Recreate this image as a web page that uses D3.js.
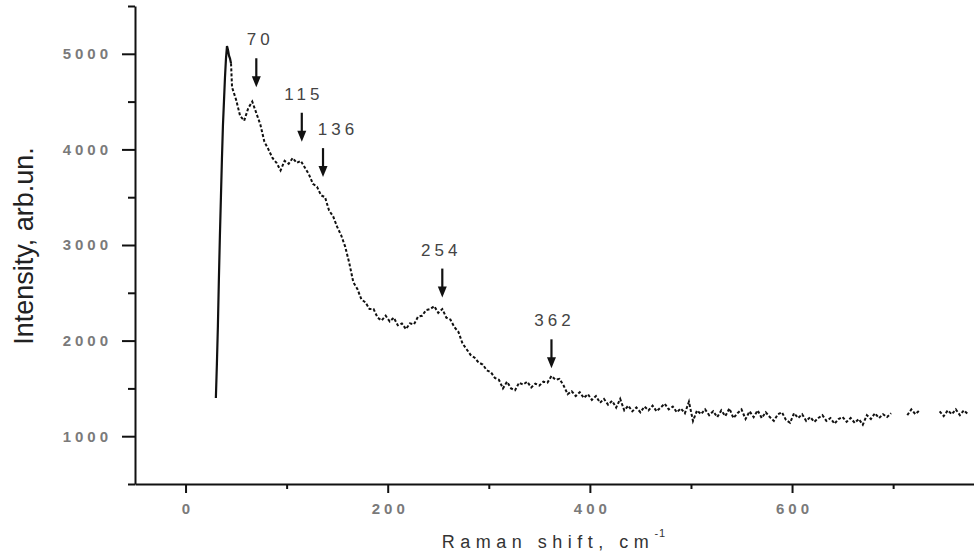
<!DOCTYPE html>
<html>
<head>
<meta charset="utf-8">
<script src="https://cdn.jsdelivr.net/npm/d3@7/dist/d3.min.js"></script>
<style>
  body { margin: 0; background: #fff; }
  svg { display: block; font-family: "Liberation Sans", Arial, sans-serif; }
</style>
</head>
<body>
<svg id="chart" width="974" height="560"></svg>
<script>
// steep laser-edge part of the spectrum (drawn solid)
var riseShift = [30, 31, 32, 33, 34, 35, 36, 37, 38, 39, 40, 41, 42, 43, 44, 45];
var riseIntensity = [1400, 1750, 2150, 2650, 3100, 3500, 3900, 4250, 4500, 4750, 4950, 5080, 5040, 4980, 4950, 4900];

// rest of the spectrum (null = gap in the trace)
var shift = [
  45, 46, 50, 54, 58, 62, 66, 70, 74, 78, 82, 86, 90, 94, 98, 102, 106, 110, 114, 118,
  122, 126, 130, 134, 138, 142, 146, 150, 154, 158, 162, 166, 170, 174, 178, 182, 186, 190, 194, 198,
  202, 206, 210, 214, 218, 222, 226, 230, 234, 238, 242, 246, 250, 254, 258, 262, 266, 270, 274, 278,
  282, 286, 290, 294, 298, 302, 306, 310, 314, 318, 322, 326, 330, 334, 338, 342, 346, 350, 354, 358,
  362, 366, 370, 374, 378, 382, 386, 390, 394, 398, 402, 406, 410, 414, 418, 422, 426, 430, 434, 438,
  442, 446, 450, 454, 458, 462, 466, 470, 474, 478, 482, 486, 490, 494, 498, 502, 506, 510, 514, 518,
  522, 526, 530, 534, 538, 542, 546, 550, 554, 558, 562, 566, 570, 574, 578, 582, 586, 590, 594, 598,
  602, 606, 610, 614, 618, 622, 626, 630, 634, 638, 642, 646, 650, 654, 658, 662, 666, 670, 674, 678,
  682, 686, 690, 694, 698, 702, 706, 710, 714, 718, 722, 726, 730, 734, 738, 742, 746, 750, 754, 758,
  762, 766, 770, 774
];
var intensity = [
  4900, 4650, 4520, 4350, 4300, 4430, 4500, 4380, 4260, 4080, 4000, 3910, 3860, 3780, 3880, 3850, 3910, 3860, 3880, 3810,
  3740, 3640, 3610, 3520, 3500, 3360, 3300, 3190, 3100, 2980, 2810, 2610, 2540, 2430, 2400, 2330, 2330, 2240, 2210, 2260,
  2200, 2240, 2160, 2180, 2120, 2180, 2170, 2250, 2260, 2320, 2330, 2360, 2290, 2330, 2240, 2220, 2140, 2090, 1970, 1910,
  1850, 1820, 1770, 1750, 1690, 1670, 1610, 1590, 1500, 1570, 1500, 1480, 1560, 1540, 1570, 1510, 1550, 1530, 1570, 1560,
  1630, 1590, 1600, 1530, 1440, 1470, 1420, 1460, 1400, 1440, 1380, 1420, 1350, 1390, 1330, 1370, 1300, 1390, 1270, 1320,
  1260, 1300, 1250, 1310, 1270, 1320, 1260, 1300, 1340, 1280, 1310, 1250, 1290, 1240, 1360, 1160, 1270, 1230, 1280, 1220,
  1260, 1200, 1270, 1210, 1290, 1190, 1240, 1280, 1180, 1260, 1200, 1270, 1190, 1250, 1200, 1160, 1230, 1250, 1170, 1140,
  1240, 1190, 1230, 1160, 1200, 1150, 1190, 1220, 1160, 1190, 1130, 1180, 1200, 1150, 1190, 1140, 1180, 1120, 1220, 1180,
  1240, 1190, 1230, 1200, 1240, null, null, null, 1220, 1280, 1230, 1270, null, null, null, null, 1260, 1210, 1270, 1230,
  1280, 1220, 1270, 1230
];

// marked peaks
var peakShift = [70, 115, 136, 254, 362];
var peakLabel = ["70", "115", "136", "254", "362"];
var arrowTip = [4650, 4080, 3710, 2450, 1710];
var labelShift = [2, 0, 13, -3, 1];

var xTicks = [0, 200, 400, 600];
var xMinor = [100, 300, 500, 700];
var yTicks = [1000, 2000, 3000, 4000, 5000];
var yMinor = [500, 1500, 2500, 3500, 4500, 5500];

var svg = d3.select("#chart");

var x = d3.scaleLinear().domain([-50, 780]).range([135, 974]);
var y = d3.scaleLinear().domain([500, 5500]).range([484, 6]);

// axes
var gx = svg.append("g")
  .attr("transform", "translate(0,484)")
  .call(d3.axisBottom(x).tickValues(xTicks).tickSize(9).tickSizeOuter(0).tickPadding(10).tickFormat(d3.format("d")));
svg.append("g")
  .attr("transform", "translate(0,484)")
  .call(d3.axisBottom(x).tickValues(xMinor).tickSize(5).tickSizeOuter(0).tickFormat(""))
  .select(".domain").remove();

var gy = svg.append("g")
  .attr("transform", "translate(135,0)")
  .call(d3.axisLeft(y).tickValues(yTicks).tickSize(13).tickSizeOuter(0).tickPadding(10).tickFormat(d3.format("d")));
svg.append("g")
  .attr("transform", "translate(135,0)")
  .call(d3.axisLeft(y).tickValues(yMinor).tickSize(7).tickSizeOuter(0).tickFormat(""))
  .select(".domain").remove();

svg.selectAll(".domain, .tick line")
  .attr("stroke", "#111")
  .attr("stroke-width", 2);

svg.selectAll(".tick text")
  .attr("font-size", 15)
  .attr("font-weight", "bold")
  .attr("letter-spacing", "4px")
  .attr("fill", "#7a7a7a")
  .attr("font-family", "Liberation Sans, Arial, sans-serif");
gx.selectAll(".tick text").attr("dx", "2px");

// spectrum
var line = d3.line()
  .defined(function (d) { return d[1] !== null; })
  .x(function (d) { return x(d[0]); })
  .y(function (d) { return y(d[1]); });

svg.append("path")
  .datum(riseShift.map(function (s, i) { return [s, riseIntensity[i]]; }))
  .attr("d", line)
  .attr("fill", "none")
  .attr("stroke", "#111")
  .attr("stroke-width", 2.2);

svg.append("path")
  .datum(shift.map(function (s, i) { return [s, intensity[i]]; }))
  .attr("d", line)
  .attr("fill", "none")
  .attr("stroke", "#111")
  .attr("stroke-width", 2)
  .attr("stroke-dasharray", "3,2");

// peak arrows and labels
var peaks = svg.selectAll("g.peak")
  .data(peakShift)
  .enter().append("g")
    .attr("class", "peak")
    .attr("transform", function (d, i) {
      return "translate(" + x(d) + "," + y(arrowTip[i]) + ")";
    });

peaks.append("line")
  .attr("x1", 0).attr("x2", 0)
  .attr("y1", -29).attr("y2", -7)
  .attr("stroke", "#111")
  .attr("stroke-width", 2.2);

peaks.append("path")
  .attr("d", "M-4.5,-11 L4.5,-11 L0,0 Z")
  .attr("fill", "#111");

peaks.append("text")
  .attr("x", function (d, i) { return labelShift[i] + 2; })
  .attr("y", -42)
  .attr("text-anchor", "middle")
  .attr("font-size", 17)
  .attr("letter-spacing", "4px")
  .attr("fill", "#444")
  .text(function (d, i) { return peakLabel[i]; });

// axis titles
var xTitle = svg.append("text")
  .attr("x", 554)
  .attr("y", 548)
  .attr("text-anchor", "middle")
  .attr("font-size", 18)
  .attr("letter-spacing", "5.5px")
  .attr("fill", "#333")
  .text("Raman shift, cm");
xTitle.append("tspan")
  .attr("font-size", 11)
  .attr("dy", -11)
  .attr("letter-spacing", "1px")
  .text("-1");

svg.append("text")
  .attr("transform", "translate(33,246) rotate(-90)")
  .attr("text-anchor", "middle")
  .attr("font-size", 27)
  .attr("fill", "#222")
  .text("Intensity, arb.un.");
</script>
</body>
</html>
